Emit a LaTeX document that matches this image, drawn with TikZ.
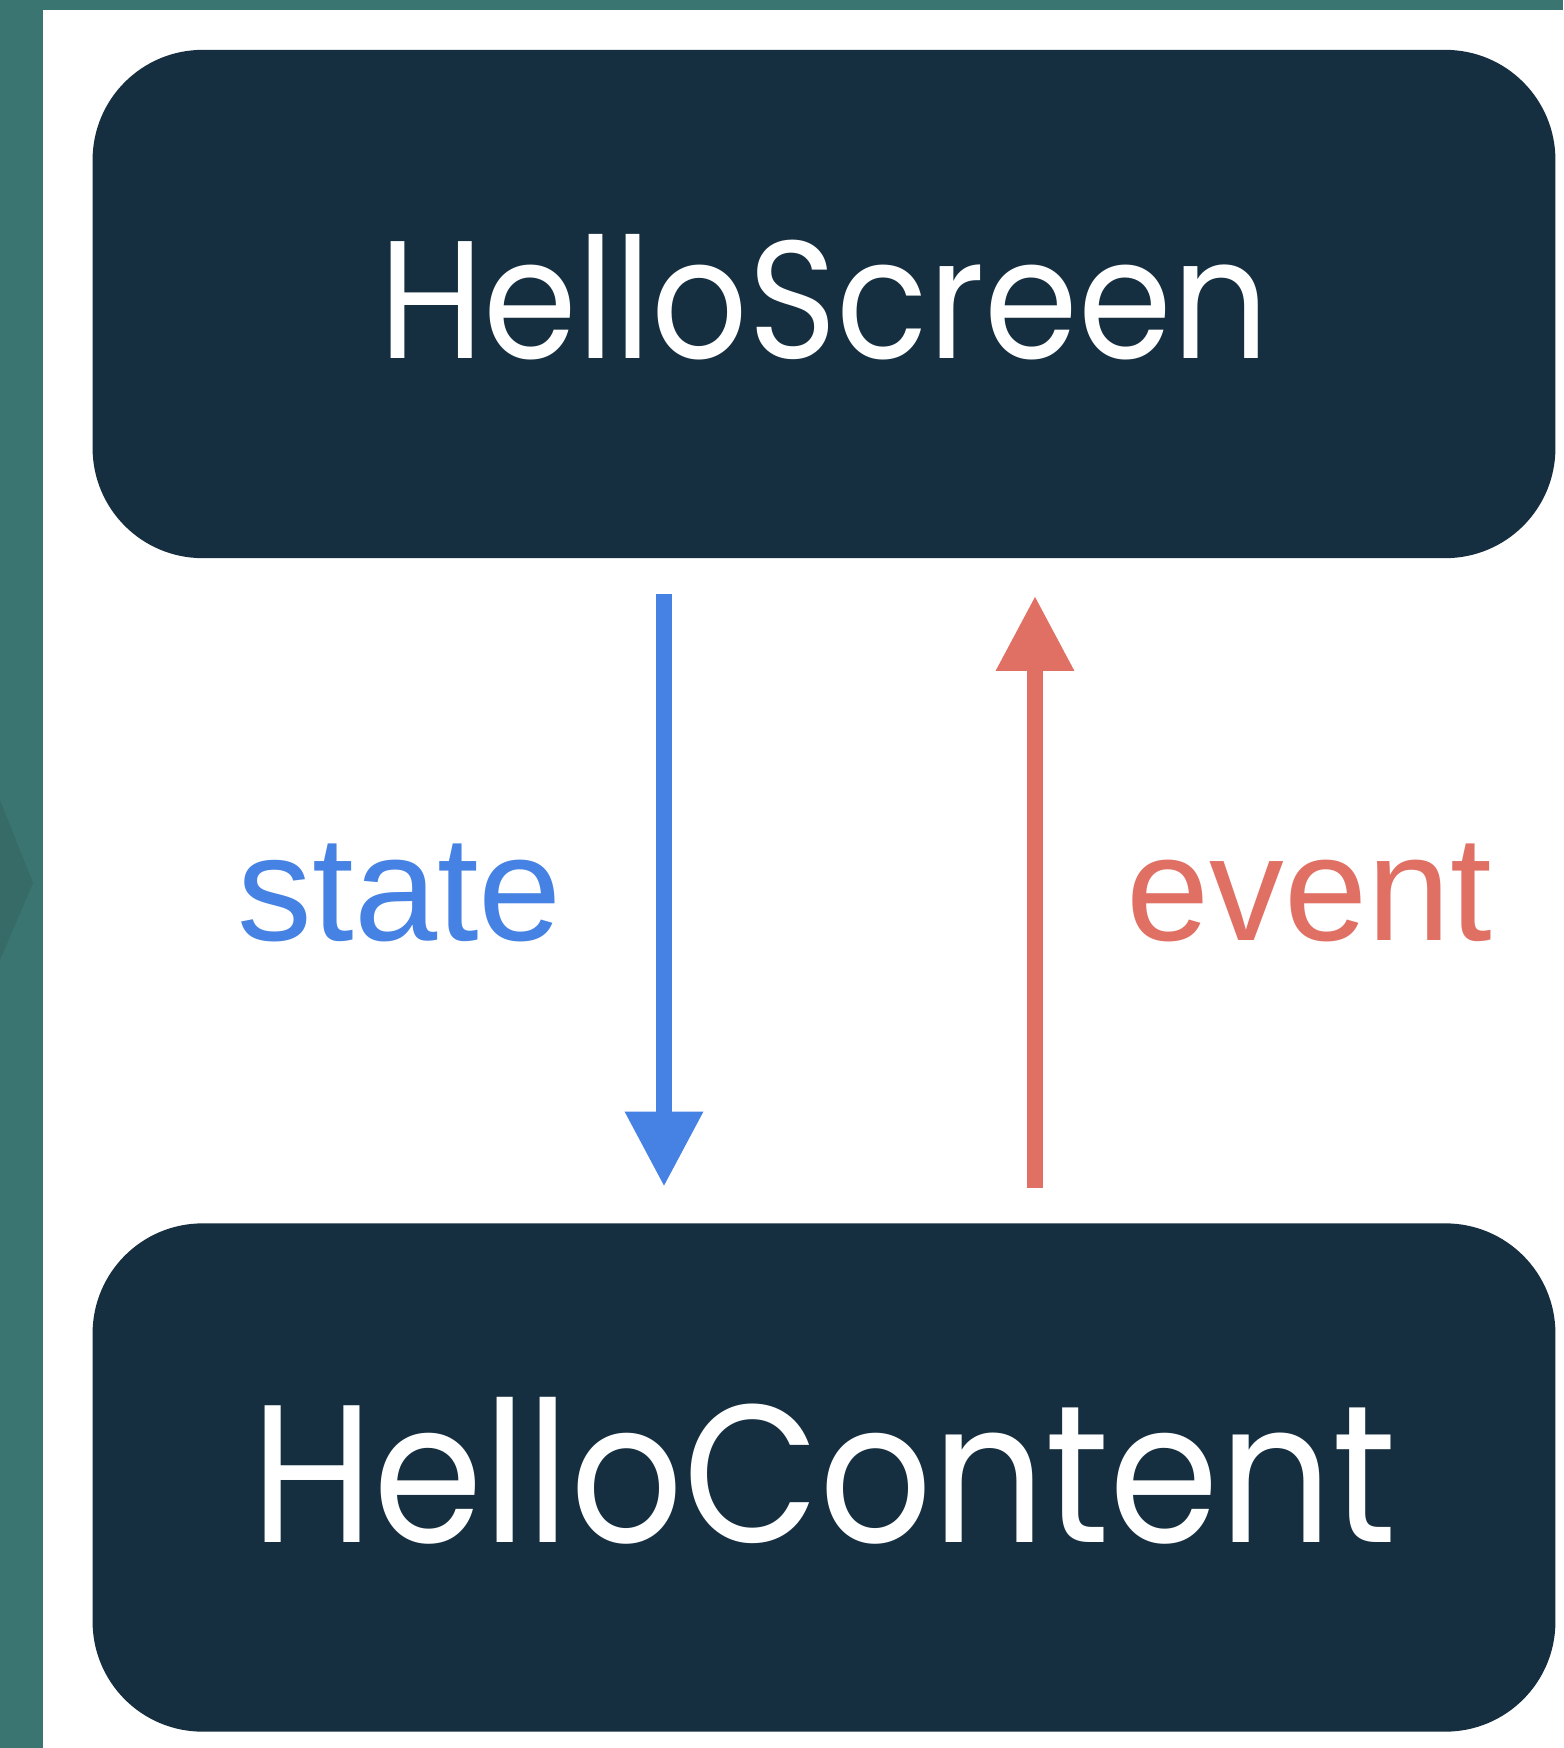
\documentclass[tikz,border=0pt]{standalone}
\usepackage{fontspec}
\usetikzlibrary{arrows.meta}
\newfontfamily\boxfont[FakeStretch=0.9]{Poppins}
\newfontfamily\labelfont{Liberation Sans}
\definecolor{navy}{HTML}{162F40}
\definecolor{stateblue}{HTML}{4682E3}
\definecolor{eventred}{HTML}{E07064}
\definecolor{sideteal}{HTML}{3A7572}
\definecolor{sidetealdark}{HTML}{376B68}

\begin{document}
\begin{tikzpicture}[x = 0.01cm, y = -0.01cm]
	\tikzstyle{boxStyle} = [shape = rectangle, rounded corners = 1.1cm, fill = navy, text = white, minimum width = 14.62cm, minimum height = 5.08cm, inner sep = 0pt, text depth = 0.16cm]
	\tikzstyle{labelStyle} = [anchor = base, inner sep = 0pt, font = \labelfont\fontsize{42.5}{43}\selectfont]
	\tikzstyle{flowStyle} = [line width = 4.55pt, -{Triangle[length = 0.75cm, width = 0.74cm]}]
	\useasboundingbox (0, 0) rectangle (1563, 1748);
	\fill[white] (0, 0) rectangle (1563, 1748);
	\fill[sideteal] (0, 0) rectangle (43, 1748);
	\fill[sideteal] (0, 0) rectangle (1563, 10);
	\fill[sidetealdark] (0, 800) -- (33, 883) -- (0, 960) -- cycle;
	\node[boxStyle, font = \boxfont\fontsize{47.7}{48}\selectfont] (screen) at (824, 304) {HelloScreen};
	\node[boxStyle, font = \boxfont\fontsize{55.8}{56}\selectfont] (content) at (824, 1477.5) {HelloContent};
	\coordinate (stateX) at (664, 0);
	\coordinate (eventX) at (1035, 0);
	\draw[flowStyle, stateblue, shorten <= 0.35cm, shorten >= 0.36cm] (screen.south -| stateX) -- (content.north -| stateX);
	\draw[flowStyle, eventred, shorten <= 0.35cm, shorten >= 0.37cm] (content.north -| eventX) -- (screen.south -| eventX);
	\node[labelStyle, text = stateblue] (state) at (400, 940) {state};
	\node[labelStyle, text = eventred] (event) at (1309, 940) {event};
\end{tikzpicture}
\end{document}
